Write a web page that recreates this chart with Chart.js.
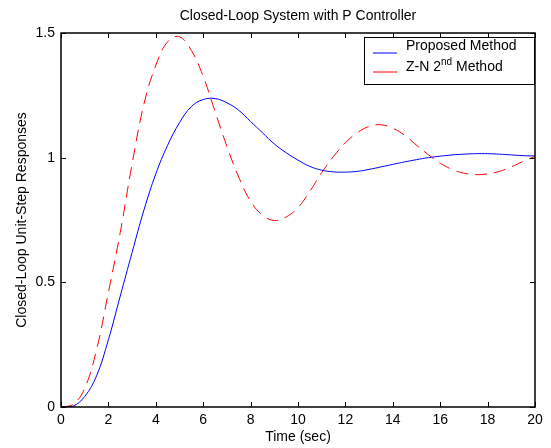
<!DOCTYPE html>
<html>
<head>
<meta charset="utf-8">
<script src="https://cdn.jsdelivr.net/npm/chart.js@4.4.1/dist/chart.umd.min.js"></script>
<style>
  html, body { margin: 0; padding: 0; background: #fff; }
  #wrap { width: 551px; height: 448px; }
</style>
</head>
<body>
<div id="wrap"><canvas id="chart" width="551" height="448"></canvas></div>
<script>
// time axis (sec)
const timeSec = [0, 0.5, 1, 1.5, 2, 2.5, 3, 3.5, 4, 4.5, 5, 5.5, 6, 6.5, 7, 7.5, 8, 8.5, 9, 9.5,
  10, 10.5, 11, 11.5, 12, 12.5, 13, 13.5, 14, 14.5, 15, 15.5, 16, 16.5, 17, 17.5, 18, 18.5, 19, 19.5, 20]
const proposedMethod = [0, 0.003, 0.042, 0.125, 0.27, 0.445, 0.62, 0.79, 0.935, 1.05, 1.14, 1.205, 1.233, 1.237,
  1.22, 1.19, 1.145, 1.10, 1.055, 1.02, 0.99, 0.965, 0.95, 0.943, 0.942, 0.945, 0.953, 0.963, 0.973, 0.983,
  0.992, 1.0, 1.006, 1.011, 1.014, 1.016, 1.016, 1.014, 1.011, 1.008, 1.007]
const znSecondMethod = [0, 0.01, 0.075, 0.23, 0.46, 0.70, 0.975, 1.215, 1.37, 1.465, 1.485, 1.43, 1.326, 1.185,
  1.045, 0.922, 0.825, 0.77, 0.748, 0.762, 0.80, 0.865, 0.94, 1.005, 1.06, 1.10, 1.125, 1.132, 1.118, 1.09,
  1.05, 1.012, 0.978, 0.953, 0.938, 0.932, 0.935, 0.945, 0.963, 0.985, 1.005]

const xTicks = [0, 2, 4, 6, 8, 10, 12, 14, 16, 18, 20]
const yTicks = [0, 0.5, 1, 1.5]
const chartTitle = 'Closed-Loop System with P Controller'

const FONT = 'Liberation Sans, Arial, Helvetica, sans-serif'
const toPoints = (ys) => ys.map((v, i) => ({ x: timeSec[i], y: v }))

// title centred over the axes, not the whole canvas
const axesTitle = {
  id: 'axesTitle',
  afterDraw(chart) {
    const { ctx, chartArea: a } = chart
    ctx.save()
    ctx.fillStyle = '#000'
    ctx.font = '14px ' + FONT
    ctx.textAlign = 'center'
    ctx.textBaseline = 'middle'
    ctx.fillText(chartTitle, (a.left + a.right) / 2, 16.5)
    ctx.restore()
  }
}

// matlab style box with inward ticks
const axesBox = {
  id: 'axesBox',
  afterDatasetsDraw(chart) {
    const { ctx, chartArea: a, scales: { x, y } } = chart
    const tick = 5
    ctx.save()
    ctx.strokeStyle = '#000'
    ctx.lineWidth = 1
    ctx.beginPath()
    xTicks.forEach(v => {
      const px = Math.round(x.getPixelForValue(v)) + 0.5
      ctx.moveTo(px, a.bottom); ctx.lineTo(px, a.bottom - tick)
      ctx.moveTo(px, a.top); ctx.lineTo(px, a.top + tick)
    })
    yTicks.forEach(v => {
      const py = Math.round(y.getPixelForValue(v)) + 0.5
      ctx.moveTo(a.left, py); ctx.lineTo(a.left + tick, py)
      ctx.moveTo(a.right, py); ctx.lineTo(a.right - tick, py)
    })
    ctx.stroke()
    ctx.lineWidth = 1.5
    ctx.strokeRect(Math.round(a.left), Math.round(a.top), Math.round(a.right - a.left), Math.round(a.bottom - a.top))
    ctx.restore()
  }
}

// legend with superscript, drawn in the upper right of the axes
const matlabLegend = {
  id: 'matlabLegend',
  afterDraw(chart) {
    const { ctx, chartArea: a } = chart
    const bx = a.right - 171, by = a.top + 4, bw = 170, bh = 47
    ctx.save()
    ctx.fillStyle = '#fff'
    ctx.fillRect(bx, by, bw, bh)
    ctx.strokeStyle = '#000'
    ctx.lineWidth = 1
    ctx.strokeRect(bx + 0.5, by + 0.5, bw, bh)

    const ds = chart.data.datasets
    const rows = [by + 16, by + 35]
    ds.forEach((d, i) => {
      ctx.strokeStyle = d.borderColor
      ctx.beginPath()
      ctx.moveTo(bx + 9, rows[i]); ctx.lineTo(bx + 33, rows[i])
      ctx.stroke()
    })

    ctx.fillStyle = '#000'
    ctx.textBaseline = 'alphabetic'
    ctx.font = '14px ' + FONT
    const tx = bx + 42
    ctx.fillText('Proposed Method', tx, rows[0] - 3)
    let x = tx
    ctx.fillText('Z-N 2', x, rows[1] - 1)
    x += ctx.measureText('Z-N 2').width
    ctx.font = '10px ' + FONT
    ctx.fillText('nd', x, rows[1] - 7)
    x += ctx.measureText('nd').width
    ctx.font = '14px ' + FONT
    ctx.fillText(' Method', x, rows[1] - 1)
    ctx.restore()
  }
}

new Chart(document.getElementById('chart'), {
  type: 'line',
  data: {
    datasets: [
      {
        label: 'Proposed Method',
        data: toPoints(proposedMethod),
        borderColor: '#0000ff',
        borderWidth: 1,
        pointRadius: 0,
        tension: 0.4,
        fill: false
      },
      {
        label: 'Z-N 2nd Method',
        data: toPoints(znSecondMethod),
        borderColor: '#ff0000',
        borderWidth: 1,
        borderDash: [12, 7],
        pointRadius: 0,
        tension: 0.4,
        fill: false
      }
    ]
  },
  options: {
    responsive: false,
    animation: false,
    layout: { padding: { left: 0, right: 16, top: 33, bottom: 0 } },
    plugins: {
      legend: { display: false },
      tooltip: { enabled: false },
      title: { display: false }
    },
    scales: {
      x: {
        type: 'linear',
        min: 0,
        max: 20,
        afterBuildTicks: s => { s.ticks = xTicks.map(v => ({ value: v })) },
        afterFit: s => { s.height = 41 },
        grid: { display: false, drawTicks: false },
        border: { display: false },
        ticks: { color: '#000', padding: 5, maxRotation: 0, font: { family: FONT, size: 14 } },
        title: {
          display: true,
          text: 'Time (sec)',
          color: '#000',
          font: { family: FONT, size: 14 },
          padding: { top: 0, bottom: 2 }
        }
      },
      y: {
        type: 'linear',
        min: 0,
        max: 1.5,
        afterBuildTicks: s => { s.ticks = yTicks.map(v => ({ value: v })) },
        afterFit: s => { s.width = 61 },
        grid: { display: false, drawTicks: false },
        border: { display: false },
        ticks: { color: '#000', padding: 6, font: { family: FONT, size: 14 }, callback: v => String(v) },
        title: {
          display: true,
          text: 'Closed-Loop Unit-Step Responses',
          color: '#000',
          font: { family: FONT, size: 14 },
          padding: { top: 14, bottom: 0 }
        }
      }
    }
  },
  plugins: [axesBox, matlabLegend, axesTitle]
})
</script>
</body>
</html>
